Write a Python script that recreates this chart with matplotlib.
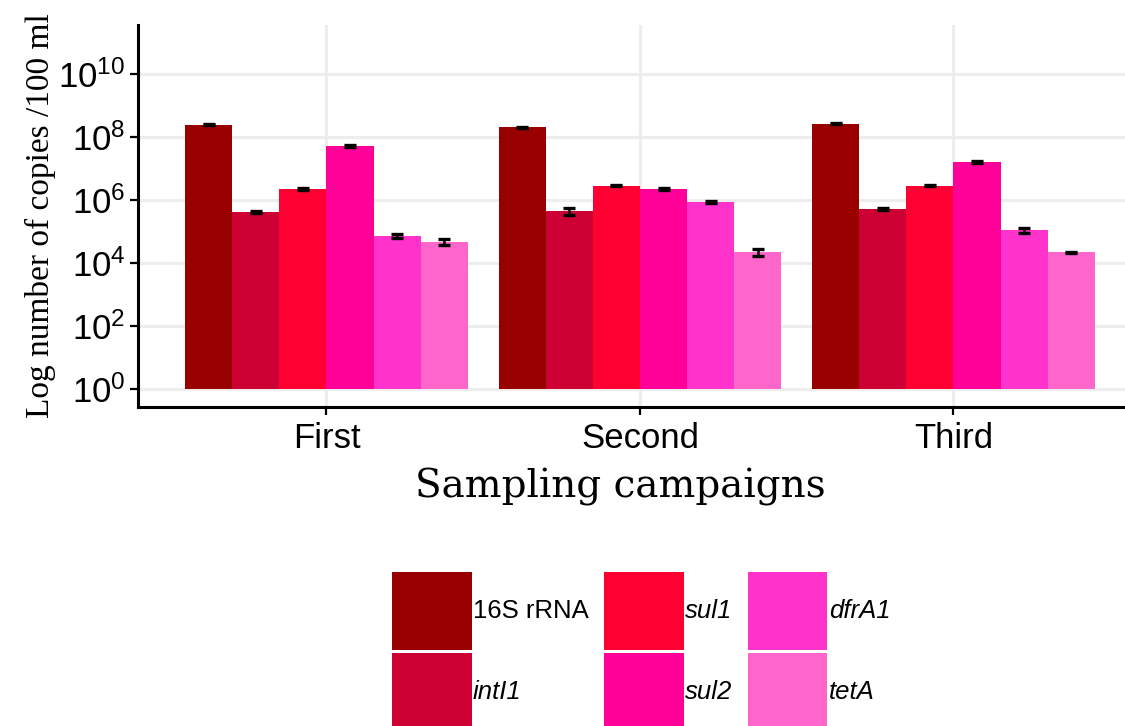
import matplotlib
matplotlib.use("Agg")
import matplotlib.pyplot as plt
import numpy as np
from matplotlib.patches import Patch
from matplotlib.ticker import FixedLocator, FuncFormatter

plt.rcParams["font.family"] = ["Liberation Sans", "DejaVu Sans"]
plt.rcParams["mathtext.fontset"] = "custom"
plt.rcParams["mathtext.rm"] = "Liberation Sans"
plt.rcParams["mathtext.it"] = "Liberation Sans:italic"

campaigns = ["First", "Second", "Third"]
genes = ["16S rRNA", "intI1", "sul1", "sul2", "dfrA1", "tetA"]
colors = ["#990000", "#CC0033", "#FF0033", "#FF0099", "#FF33CC", "#FF66CC"]

# copies / 100 ml, one list per gene (First, Second, Third)
rrna_16s = [2.4e8, 2.0e8, 2.6e8]
intl1 = [4.2e5, 4.5e5, 5.2e5]
sul1 = [2.2e6, 2.8e6, 2.8e6]
sul2 = [5.1e7, 2.2e6, 1.6e7]
dfra1 = [7.2e4, 8.6e5, 1.1e5]
teta = [4.7e4, 2.2e4, 2.2e4]

rrna_16s_err = [1.0e7, 8.0e6, 1.0e7]
intl1_err = [2.5e4, 1.2e5, 2.5e4]
sul1_err = [1.0e5, 1.3e5, 1.3e5]
sul2_err = [2.5e6, 1.0e5, 8.0e5]
dfra1_err = [1.2e4, 5.0e4, 2.0e4]
teta_err = [1.1e4, 5.0e3, 1.0e3]

values = [rrna_16s, intl1, sul1, sul2, dfra1, teta]
errors = [rrna_16s_err, intl1_err, sul1_err, sul2_err, dfra1_err, teta_err]

fig = plt.figure(figsize=(11.25, 7.26), dpi=100)
ax = fig.add_axes([138 / 1125, 1 - 406.5 / 726, 1 - 138 / 1125, (406.5 - 25) / 726])

x = np.arange(1, len(campaigns) + 1)
width = 0.9 / len(genes)

for i, (gene, vals, errs, color) in enumerate(zip(genes, values, errors, colors)):
    pos = x + (i - (len(genes) - 1) / 2) * width
    vals = np.array(vals)
    ax.bar(pos, vals - 1, bottom=1, width=width, color=color,
           label=gene, zorder=2)
    ax.errorbar(pos, vals, yerr=errs, fmt="none", ecolor="black",
                elinewidth=1.8, capsize=4, capthick=2.4, zorder=3)

ax.set_yscale("log")
ax.set_ylim(10 ** -0.545, 10 ** 11.54)
# panel is cut at the right edge of the picture
unit_px = 313.5
left = 1 - (326.5 - 138) / unit_px
ax.set_xlim(left, left + (1125 - 138) / unit_px)

ax.yaxis.set_major_locator(FixedLocator([10.0 ** k for k in range(0, 11, 2)]))
ax.yaxis.set_minor_locator(FixedLocator([]))
ax.yaxis.set_major_formatter(
    FuncFormatter(lambda v, _: r"$\mathregular{10^{%d}}$" % round(np.log10(v)))
)
ax.set_xticks(x)
ax.set_xticklabels(campaigns, fontsize=25)
ax.tick_params(axis="y", labelsize=25, length=6, width=1.6, pad=3)
ax.tick_params(axis="x", length=6, width=1.6, pad=5)

ax.grid(True, which="major", color="#EDEDED", linewidth=2.2, zorder=0)
ax.set_axisbelow(True)
for side in ["top", "right"]:
    ax.spines[side].set_visible(False)
for side in ["left", "bottom"]:
    ax.spines[side].set_linewidth(2.2)

ax.set_ylabel("Log number of copies /100 ml", family="Liberation Serif",
              fontsize=24, labelpad=2)
ax.set_xlabel("Sampling campaigns", family="DejaVu Serif", fontsize=28,
              labelpad=6)
ax.xaxis.set_label_coords((620 - 138) / (1125 - 138), -0.16)

handles = [Patch(facecolor=c, edgecolor="none") for c in colors]
leg = fig.legend(handles, genes, ncol=3, loc="upper left",
                 bbox_to_anchor=(392 / 1125, 1 - 572 / 726),
                 frameon=False, fontsize=18.5, borderpad=0, borderaxespad=0,
                 handlelength=3.1, handleheight=4.3, labelspacing=0.12,
                 handletextpad=0.05, columnspacing=0.6)
for t in leg.get_texts()[1:]:
    t.set_style("italic")

fig.savefig("out.png", dpi=100)
